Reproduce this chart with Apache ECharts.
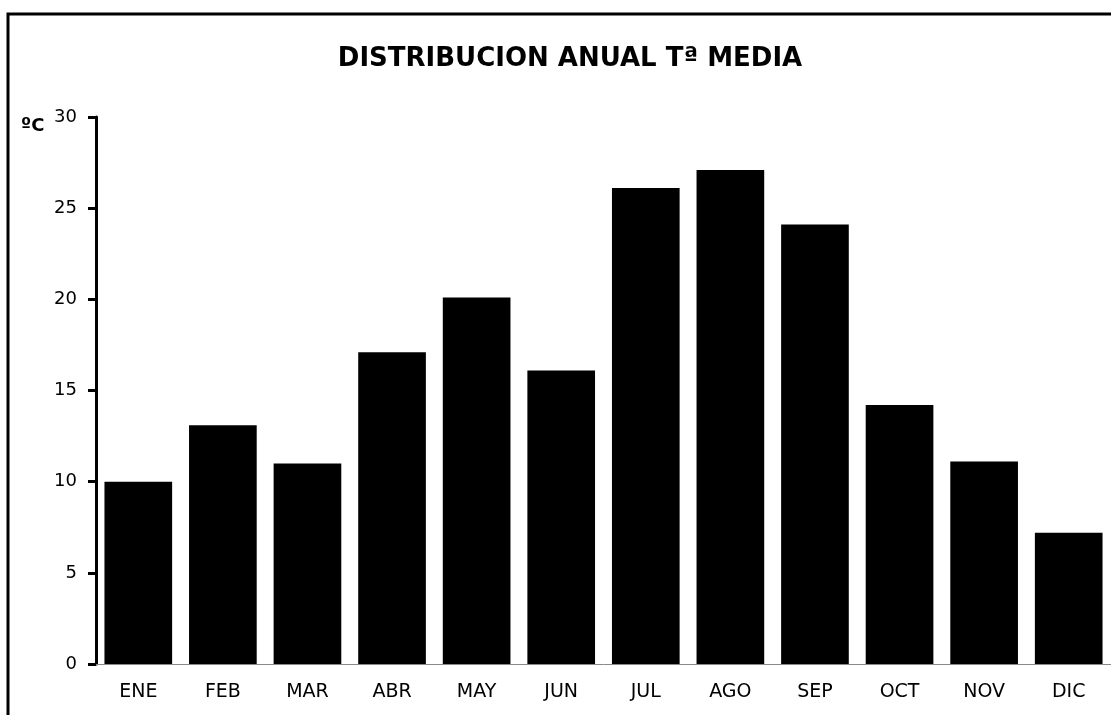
<!DOCTYPE html>
<html>
<head>
<meta charset="utf-8">
<script src="https://cdn.jsdelivr.net/npm/echarts@6/dist/echarts.min.js"></script>
<style>html,body{margin:0;padding:0;background:#fff;}#c{width:1111px;height:715px;}</style>
</head>
<body>
<div id="c"></div>
<script>
const months = ['ENE','FEB','MAR','ABR','MAY','JUN','JUL','AGO','SEP','OCT','NOV','DIC'];
const temps = [10, 13.1, 11, 17.1, 20.1, 16.1, 26.1, 27.1, 24.1, 14.2, 11.1, 7.2];
const yTicks = [0, 5, 10, 15, 20, 25, 30];

const FONT = '"DejaVu Sans", "Liberation Sans", Arial, sans-serif';
const chart = echarts.init(document.getElementById('c'));
chart.setOption({
  animation: false,
  backgroundColor: '#fff',
  title: {
    text: 'DISTRIBUCION ANUAL Tª MEDIA',
    left: 565, textAlign: 'center', top: 41,
    textStyle: {fontFamily: FONT, fontWeight: 'bold', fontSize: 26, color: '#000'}
  },
  graphic: [
    {type: 'rect', shape: {x: 8, y: 14, width: 1300, height: 900}, style: {fill: 'none', stroke: '#000', lineWidth: 3}, z: 100},
    {type: 'text', left: 21, top: 117, style: {text: 'ºC', font: 'bold 18px ' + FONT, fill: '#000'}}
  ],
  grid: {left: 96, right: 0, top: 117, bottom: 51, containLabel: false},
  xAxis: {
    type: 'category', data: months,
    axisLine: {lineStyle: {color: '#888', width: 1}},
    axisTick: {show: false},
    axisLabel: {color: '#000', fontSize: 19, margin: 19, fontFamily: FONT}
  },
  yAxis: {
    type: 'value', min: yTicks[0], max: yTicks[yTicks.length-1], interval: 5,
    axisLine: {show: true, lineStyle: {color: '#000', width: 3}},
    axisTick: {show: true, length: 8, lineStyle: {color: '#000', width: 3}},
    axisLabel: {color: '#000', fontSize: 18, margin: 19, fontFamily: FONT},
    splitLine: {show: false}
  },
  series: [{
    type: 'bar', data: temps, barCategoryGap: '20%',
    itemStyle: {color: '#000'}
  }]
});
</script>
</body>
</html>
